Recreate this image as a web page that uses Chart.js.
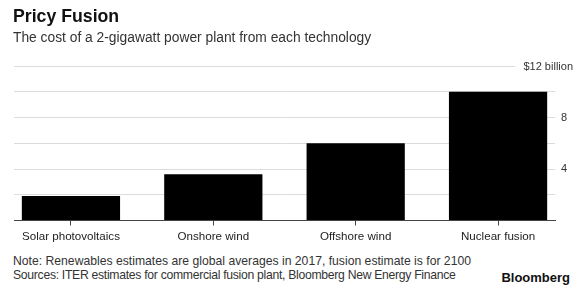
<!DOCTYPE html>
<html>
<head>
<meta charset="utf-8">
<script src="https://cdn.jsdelivr.net/npm/chart.js@4.4.1/dist/chart.umd.min.js"></script>
<style>
  html, body { margin: 0; padding: 0; background: #fff; }
  #wrap { position: relative; width: 580px; height: 285px; overflow: hidden; font-family: "Liberation Sans", Arial, sans-serif; }
  #chart { position: absolute; left: 0; top: 0; }
  .t { position: absolute; white-space: nowrap; }
  #title { left: 13px; top: 8px; font-size: 17.7px; line-height: 17px; font-weight: bold; color: #111; }
  #subtitle { left: 13px; top: 31px; font-size: 13.8px; line-height: 13px; color: #333; }
  #note { left: 13px; top: 254px; font-size: 12.2px; line-height: 14px; color: #333; }
  #note .l2 { letter-spacing: -0.29px; }
  #logo { right: 10px; top: 271px; font-size: 13px; line-height: 14px; font-weight: bold; color: #111; }
</style>
</head>
<body>
<div id="wrap">
  <canvas id="chart" width="580" height="250"></canvas>
  <div class="t" id="title">Pricy Fusion</div>
  <div class="t" id="subtitle">The cost of a 2-gigawatt power plant from each technology</div>
  <div class="t" id="note">Note: Renewables estimates are global averages in 2017, fusion estimate is for 2100<br><span class="l2">Sources: ITER estimates for commercial fusion plant, Bloomberg New Energy Finance</span></div>
  <div class="t" id="logo">Bloomberg</div>
</div>
<script>
const categories = ["Solar photovoltaics", "Onshore wind", "Offshore wind", "Nuclear fusion"];
const costBillions = [1.9, 3.6, 6.0, 10.0];
const yTicks = [0, 2, 4, 6, 8, 10, 12];
const yTickLabels = { 4: "4", 8: "8" };
const topLabel = "$12 billion";

const topLinePlugin = {
  id: 'topLine',
  afterDraw(chart) {
    const { ctx, chartArea, scales } = chart;
    const y = Math.round(scales.y.getPixelForValue(12)) + 0.5;
    ctx.save();
    ctx.strokeStyle = '#dcdcdc';
    ctx.lineWidth = 1;
    ctx.beginPath();
    ctx.moveTo(chartArea.left, y);
    ctx.lineTo(515, y);
    ctx.stroke();
    ctx.fillStyle = '#333';
    ctx.font = '11px "Liberation Sans", Arial, sans-serif';
    ctx.textAlign = 'right';
    ctx.textBaseline = 'middle';
    ctx.fillText(topLabel, 573, y);
    ctx.restore();
  }
};

new Chart(document.getElementById('chart'), {
  type: 'bar',
  data: {
    datasets: [{
      data: costBillions.map((v, i) => ({ x: i, y: v })),
      backgroundColor: '#000',
      borderWidth: 0,
      barPercentage: 0.69,
      categoryPercentage: 1.0
    }]
  },
  options: {
    responsive: false,
    animation: false,
    layout: { padding: { left: 14, top: 66, right: 0, bottom: 0 } },
    plugins: { legend: { display: false }, tooltip: { enabled: false } },
    scales: {
      x: {
        type: 'linear',
        offset: false,
        min: -0.4,
        max: 3.4,
        afterBuildTicks(scale) { scale.ticks = categories.map((c, i) => ({ value: i })); },
        afterFit(scale) { scale.height = 29.5; },
        ticks: {
          includeBounds: false,
          autoSkip: false,
          maxRotation: 0,
          padding: 4,
          color: '#222',
          font: { family: '"Liberation Sans", Arial, sans-serif', size: 11.6 },
          callback: (v) => categories[v] ?? ''
        },
        grid: { offset: false, drawOnChartArea: false, drawTicks: true, tickLength: 5, tickColor: '#444' },
        border: { color: '#444', width: 1 }
      },
      y: {
        position: 'right',
        min: 0,
        max: 12,
        afterBuildTicks(scale) { scale.ticks = yTicks.map(v => ({ value: v })); },
        afterFit(scale) { scale.width = 25; },
        ticks: {
          padding: 6,
          color: '#333',
          font: { family: '"Liberation Sans", Arial, sans-serif', size: 11 },
          callback: (v) => yTickLabels[v] ?? ''
        },
        grid: {
          drawTicks: false,
          color: (c) => (c.tick && (c.tick.value === 12 || c.tick.value === 0)) ? 'rgba(0,0,0,0)' : '#dcdcdc'
        },
        border: { display: false }
      }
    }
  },
  plugins: [topLinePlugin]
});
</script>
</body>
</html>
